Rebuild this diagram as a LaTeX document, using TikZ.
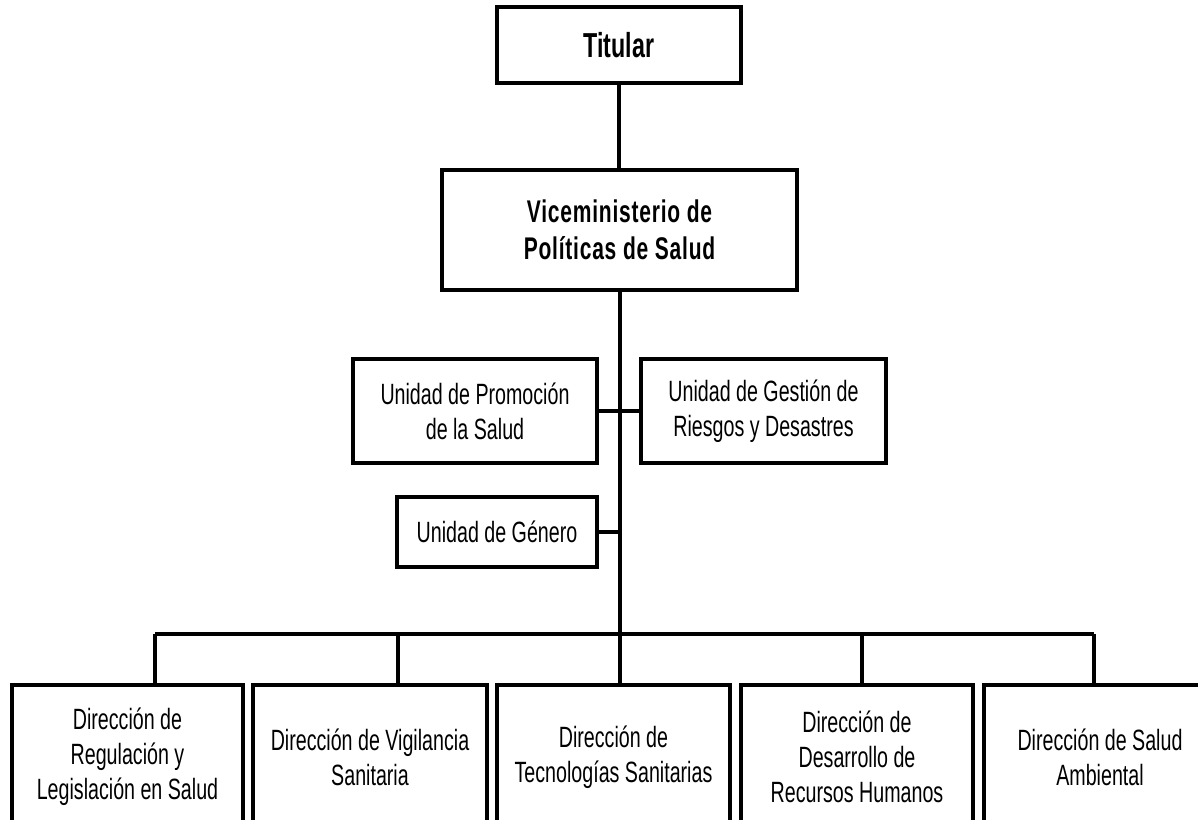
\documentclass[tikz,border=0pt]{standalone}
\usepackage{fontspec}
\setmainfont{Liberation Sans}[FakeStretch=0.67]
\newfontfamily\vicefont{Liberation Sans}[FakeStretch=0.67,LetterSpace=2.5]
\begin{document}
\begin{tikzpicture}[x=0.75pt,y=-0.75pt,
  every node/.style={inner sep=0pt,outer sep=0pt},
  box/.style={draw=black,line width=2.3pt,fill=white,align=center,
    font=\fontsize{22pt}{26.25pt}\selectfont},
  bottombox/.style={box,minimum height=108pt},
  conn/.style={draw=black,line width=2.3pt}]
\fill[white] (0,0) rectangle (1198,820);
\useasboundingbox (0,0) rectangle (1198,820);
\clip (0,0) rectangle (1198,820);
% top levels
\node[box,minimum width=183pt,minimum height=57pt,font=\fontsize{26pt}{30pt}\selectfont\bfseries] (tit) at (619,45) {Titular};
\node[box,minimum width=266.25pt,minimum height=90pt,font=\vicefont\fontsize{23.5pt}{27.5pt}\selectfont\bfseries] (vice) at (619.5,230) {Viceministerio de\\Políticas de Salud};
% units
\node[box,minimum width=183pt,minimum height=78pt] (promo) at (475,411) {Unidad de Promoción\\de la Salud};
\node[box,minimum width=183.75pt,minimum height=78pt] (gest) at (763.5,411) {Unidad de Gestión de\\Riesgos y Desastres};
\node[box,minimum width=150pt,minimum height=52.5pt] (gen) at (497,532) {Unidad de Género};
% directions
\node[bottombox,minimum width=173.25pt] (b1) at (127.5,757) {Dirección de\\Regulación y\\Legislación en Salud};
\node[bottombox,minimum width=175.5pt] (b2) at (370,757) {Dirección de Vigilancia\\Sanitaria};
\node[bottombox,minimum width=174.75pt] (b3) at (613.5,757) {Dirección de\\Tecnologías Sanitarias};
\node[bottombox,minimum width=174pt] (b4) at (857,757) {Dirección de\\Desarrollo de\\Recursos Humanos};
\node[bottombox,minimum width=174pt] (b5) at (1100,757) {Dirección de Salud\\Ambiental};
% connectors
\coordinate (trunk) at (620,634);
\coordinate (d1) at (155,634);
\coordinate (d2) at (398,634);
\coordinate (d3) at (620,634);
\coordinate (d4) at (862,634);
\coordinate (d5) at (1094,634);
\draw[conn] (tit.south) -- (tit.south |- vice.north);
\draw[conn] (trunk |- vice.south) -- (trunk);
\draw[conn] (promo.east) -- (gest.west);
\draw[conn] (gen.east) -- (trunk |- gen.east);
\draw[conn] (d1) -- (d5);
\draw[conn] (d1) -- (d1 |- b1.north);
\draw[conn] (d2) -- (d2 |- b2.north);
\draw[conn] (d3) -- (d3 |- b3.north);
\draw[conn] (d4) -- (d4 |- b4.north);
\draw[conn] (d5) -- (d5 |- b5.north);
\end{tikzpicture}
\end{document}
